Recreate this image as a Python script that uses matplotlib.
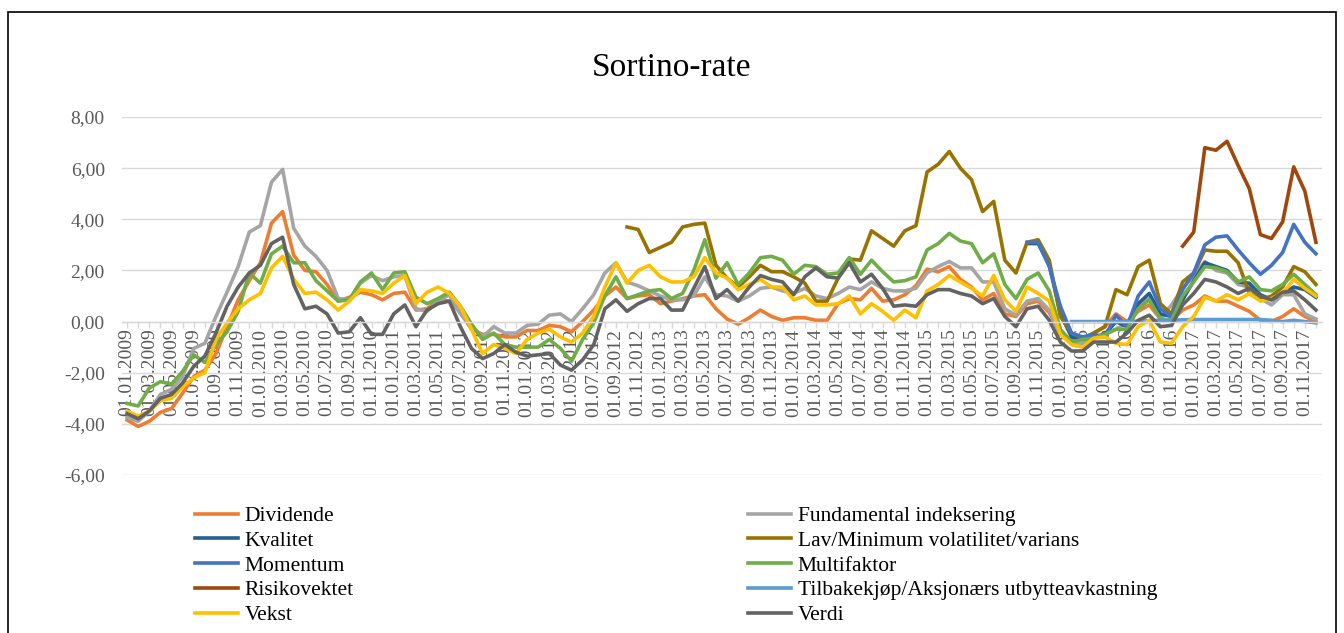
import matplotlib
matplotlib.use('Agg')
import matplotlib.pyplot as plt
import numpy as np
import pandas as pd
from matplotlib.patches import Rectangle

# monthly categories 01.01.2009 - 01.12.2017
months = pd.date_range('2009-01-01', periods=108, freq='MS').strftime('%d.%m.%Y').tolist()

dividende = [-3.85, -4.1, -3.9, -3.55, -3.4, -2.8, -2.15, -1.9, -1.25, -0.2, 0.85, 1.6, 2.3, 3.85, 4.3, 2.6, 2.0, 1.95,
             1.45, 0.8, 0.95, 1.15, 1.05, 0.85, 1.1, 1.15, 0.45, 0.5, 0.85, 0.8, 0.35, -0.3, -0.5, -0.5, -0.6, -0.6,
             -0.35, -0.35, -0.15, -0.2, -0.4, 0.0, 0.45, 1.0, 1.35, 0.9, 1.0, 1.05, 0.7, 0.8, 0.9, 1.0, 1.05, 0.5,
             0.1, -0.1, 0.15, 0.45, 0.2, 0.05, 0.15, 0.15, 0.05, 0.05, 0.7, 0.9, 0.85, 1.3, 0.8, 0.85, 1.05, 1.4,
             2.05, 1.95, 2.15, 1.65, 1.35, 0.85, 1.1, 0.3, 0.2, 0.7, 0.8, 0.35, -0.45, -0.7, -0.7, -0.45, -0.2, 0.3,
             0.0, 0.4, 0.65, 0.1, 0.05, 0.45, 0.65, 1.0, 0.8, 0.8, 0.6, 0.4, 0.05, 0.0, 0.2, 0.5, 0.2, 0.0]

fundamental = [-3.75, -3.9, -3.5, -2.85, -2.65, -2.15, -1.05, -0.85, 0.2, 1.15, 2.15, 3.5, 3.75, 5.45, 5.95, 3.65, 2.95, 2.55,
               2.0, 0.9, 0.85, 1.5, 1.8, 1.6, 1.75, 1.8, 0.5, 0.4, 0.8, 1.05, 0.3, -0.2, -0.6, -0.2, -0.45, -0.45,
               -0.15, -0.1, 0.25, 0.3, 0.0, 0.5, 1.05, 1.9, 2.3, 1.55, 1.4, 1.2, 1.0, 0.85, 0.85, 1.0, 1.75, 1.05,
               1.0, 0.8, 1.0, 1.3, 1.35, 1.2, 1.1, 1.3, 1.0, 0.9, 1.1, 1.35, 1.25, 1.55, 1.3, 1.2, 1.2, 1.3,
               1.9, 2.15, 2.35, 2.1, 2.1, 1.55, 1.55, 0.5, 0.25, 0.8, 0.9, 0.45, -0.5, -0.85, -0.85, -0.6, -0.5, -0.3,
               -0.05, 0.6, 0.9, 0.1, 0.65, 1.3, 1.8, 2.35, 2.0, 1.9, 1.45, 1.35, 0.9, 0.65, 1.05, 1.05, 0.3, 0.1]

multifaktor = [-3.2, -3.3, -2.6, -2.35, -2.45, -1.95, -1.3, -1.6, -0.9, -0.4, 0.4, 1.9, 1.5, 2.65, 2.95, 2.3, 2.3, 1.6,
               1.2, 0.8, 0.85, 1.55, 1.9, 1.25, 1.9, 1.95, 0.95, 0.7, 0.9, 1.15, 0.6, -0.1, -0.7, -0.45, -0.9, -1.0,
               -1.0, -1.0, -0.7, -1.05, -1.55, -0.7, -0.05, 1.0, 1.75, 0.9, 1.05, 1.2, 1.25, 0.9, 1.1, 2.0, 3.2, 1.7,
               2.3, 1.45, 1.9, 2.5, 2.55, 2.4, 1.85, 2.2, 2.15, 1.85, 1.9, 2.5, 1.85, 2.4, 1.95, 1.55, 1.6, 1.75,
               2.8, 3.05, 3.45, 3.15, 3.05, 2.3, 2.65, 1.45, 0.9, 1.65, 1.9, 1.2, -0.3, -0.8, -0.7, -0.65, -0.5, -0.3,
               -0.3, 0.5, 0.85, 0.1, 0.05, 1.0, 1.55, 2.15, 2.1, 1.95, 1.55, 1.75, 1.25, 1.2, 1.45, 1.85, 1.45, 1.05]

vekst = [-3.5, -3.7, -3.5, -3.1, -3.0, -2.55, -2.2, -2.0, -0.7, -0.05, 0.5, 0.85, 1.1, 2.1, 2.55, 1.65, 1.1, 1.15,
         0.85, 0.45, 0.8, 1.25, 1.2, 1.1, 1.5, 1.8, 0.7, 1.15, 1.35, 1.1, 0.6, -0.3, -1.25, -0.9, -1.05, -1.25,
         -0.7, -0.45, -0.3, -0.6, -0.8, -0.45, 0.2, 1.35, 2.3, 1.5, 2.0, 2.2, 1.75, 1.55, 1.55, 1.75, 2.5, 1.9,
         1.7, 1.25, 1.45, 1.65, 1.35, 1.35, 0.85, 1.0, 0.65, 0.65, 0.7, 1.0, 0.3, 0.7, 0.4, 0.05, 0.45, 0.15,
         1.2, 1.45, 1.8, 1.55, 1.3, 1.0, 1.8, 0.85, 0.4, 1.35, 1.1, 0.8, -0.5, -0.9, -1.0, -0.65, -0.6, -0.85,
         -0.9, -0.2, 0.05, -0.8, -0.85, -0.2, 0.2, 0.95, 0.8, 1.05, 0.85, 1.1, 0.8, 0.9, 1.1, 1.65, 1.3, 1.0]

verdi = [-3.6, -3.8, -3.5, -3.0, -2.85, -2.4, -1.75, -1.35, -0.45, 0.6, 1.35, 1.9, 2.2, 3.05, 3.3, 1.45, 0.5, 0.6,
         0.3, -0.45, -0.4, 0.15, -0.5, -0.5, 0.3, 0.65, -0.2, 0.45, 0.7, 0.8, -0.2, -1.05, -1.45, -1.25, -0.9, -1.2,
         -1.35, -1.3, -1.25, -1.7, -1.9, -1.5, -0.9, 0.5, 0.85, 0.4, 0.7, 0.9, 0.9, 0.45, 0.45, 1.3, 2.15, 0.9,
         1.25, 0.8, 1.35, 1.8, 1.65, 1.55, 1.05, 1.75, 2.1, 1.75, 1.7, 2.3, 1.55, 1.85, 1.3, 0.6, 0.65, 0.6,
         1.05, 1.25, 1.25, 1.1, 1.0, 0.7, 0.9, 0.2, -0.2, 0.5, 0.6, 0.05, -0.8, -1.15, -1.15, -0.8, -0.8, -0.8,
         -0.45, 0.05, 0.25, -0.2, -0.15, 0.65, 1.1, 1.65, 1.55, 1.35, 1.1, 1.3, 1.0, 0.85, 1.15, 1.2, 0.85, 0.45]

# series that start later
lav_start = '01.10.2012'
lav = [3.7, 3.6, 2.7, 2.9, 3.1, 3.7, 3.8, 3.85, 2.2, 1.7, 1.35, 1.75, 2.2, 1.95, 1.95, 1.75, 1.5, 0.8, 0.8,
       1.7, 2.45, 2.4, 3.55, 3.25, 2.95, 3.55, 3.75, 5.85, 6.15, 6.65, 6.0, 5.55, 4.3, 4.7, 2.4, 1.9, 3.1, 3.2,
       2.4, 0.2, -0.45, -0.65, -0.45, -0.2, 1.25, 1.05, 2.15, 2.4, 0.7, 0.3, 1.55, 1.9, 2.8, 2.75, 2.75, 2.3,
       1.1, 0.85, 1.0, 1.35, 2.15, 1.95, 1.45]

momentum_start = '01.10.2015'
momentum = [3.1, 3.1, 2.15, 0.6, -0.45, -0.6, -0.5, -0.6, 0.25, -0.2, 1.0, 1.55, 0.5, 0.2, 1.25, 1.9, 3.0, 3.3,
            3.35, 2.8, 2.3, 1.85, 2.2, 2.7, 3.8, 3.1, 2.65]

kvalitet_start = '01.10.2015'
kvalitet = [3.05, 3.05, 2.2, 0.3, -0.6, -0.7, -0.6, -0.5, 0.0, -0.2, 0.7, 1.1, 0.3, 0.2, 0.85, 1.6, 2.3, 2.15,
            2.0, 1.55, 1.5, 1.05, 0.85, 1.1, 1.35, 1.25, 0.95]

tilbakekjop_start = '01.02.2016'
tilbakekjop = [0.0, 0.0, 0.0, 0.0, 0.0, 0.0, 0.02, 0.03, 0.05, 0.05, 0.07, 0.08, 0.08, 0.08, 0.08, 0.08, 0.08,
               0.08, 0.05, 0.0, 0.05, 0.0, -0.05]

risikovektet_start = '01.12.2016'
risikovektet = [2.95, 3.5, 6.8, 6.7, 7.05, 6.1, 5.2, 3.4, 3.25, 3.9, 6.05, 5.1, 3.1]


def pad(values, start):
    i = months.index(start)
    return [np.nan] * i + values


series = [
    ('Dividende', dividende, '#ED7D31'),
    ('Fundamental indeksering', fundamental, '#A5A5A5'),
    ('Kvalitet', pad(kvalitet, kvalitet_start), '#255E91'),
    ('Lav/Minimum volatilitet/varians', pad(lav, lav_start), '#997300'),
    ('Momentum', pad(momentum, momentum_start), '#4472C4'),
    ('Multifaktor', multifaktor, '#70AD47'),
    ('Risikovektet', pad(risikovektet, risikovektet_start), '#9E480E'),
    ('Tilbakekjøp/Aksjonærs utbytteavkastning', pad(tilbakekjop, tilbakekjop_start), '#5B9BD5'),
    ('Vekst', vekst, '#FFC000'),
    ('Verdi', verdi, '#636363'),
]

plt.rcParams['font.family'] = ['Liberation Serif', 'DejaVu Serif']

W, H = 1344, 633
fig = plt.figure(figsize=(W / 100, H / 100), dpi=100)
ax = fig.add_axes([121.5 / W, 1 - 475 / H, 1200 / W, 358 / H])

x = np.arange(len(months))
handles = {}
for name, vals, color in series:
    line, = ax.plot(x, vals, color=color, lw=2.6, solid_joinstyle='round', label=name)
    handles[name] = line

ax.set_xlim(-0.5, len(months) - 0.5)
ax.set_ylim(-6, 8)
yt = np.arange(-6, 9, 2)
ax.set_yticks(yt)
ax.set_yticklabels([f'{v:.2f}'.replace('.', ',') for v in yt])
ax.grid(axis='y', color='#D9D9D9', lw=1.0)
ax.set_axisbelow(True)
for s in ['top', 'right', 'left']:
    ax.spines[s].set_visible(False)
ax.spines['bottom'].set_position(('data', 0))
ax.spines['bottom'].set_color('#D9D9D9')
ax.spines['bottom'].set_linewidth(1.0)
ax.set_xticks(x)
ax.set_xticklabels([m if i % 2 == 0 else '' for i, m in enumerate(months)], rotation=90)
ax.tick_params(axis='x', colors='#D9D9D9', length=4, width=1.0, labelcolor='#595959', labelsize=14, pad=1)
ax.tick_params(axis='y', length=0, labelcolor='#595959', labelsize=14, pad=12)

fig.text(0.5, 1 - 68 / H, 'Sortino-rate', ha='center', va='center', fontsize=24, color='black')

names = [s[0] for s in series]
col1 = [handles[n] for n in names[0::2]]
col2 = [handles[n] for n in names[1::2]]
kw = dict(loc='upper left', frameon=False, fontsize=15.5, handlelength=2.0, handletextpad=0.3,
          labelspacing=0.22, borderpad=0, borderaxespad=0)
fig.legend(handles=col1, bbox_to_anchor=(195 / W, 1 - 506 / H), **kw)
fig.legend(handles=col2, bbox_to_anchor=(748 / W, 1 - 506 / H), **kw)

fig.patches.append(Rectangle((8 / W, -0.1), (1336 - 8) / W, 0.1 + 1 - 12 / H, transform=fig.transFigure,
                             fill=False, edgecolor='black', lw=1.2))

fig.savefig('out.png', dpi=100)
